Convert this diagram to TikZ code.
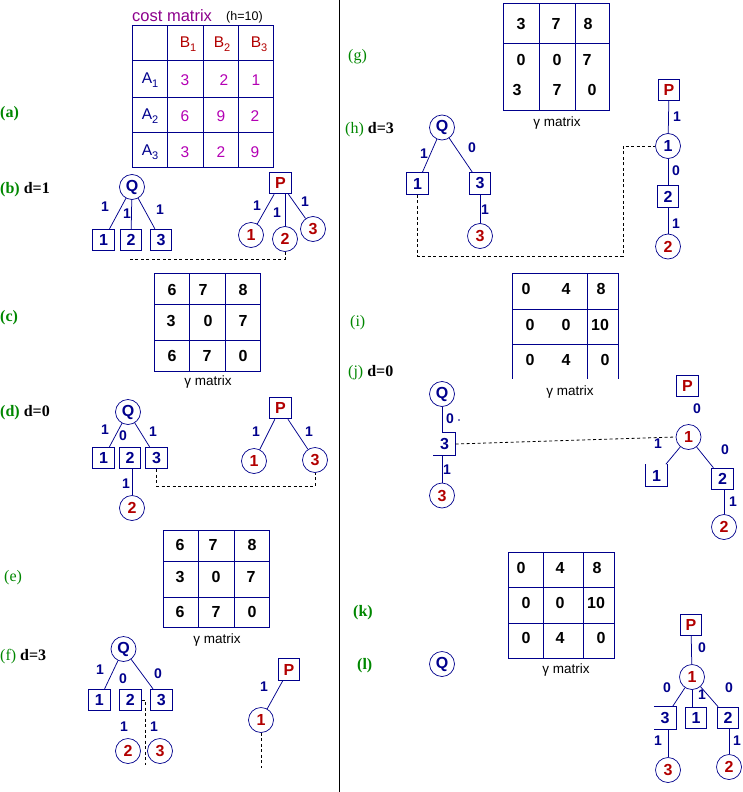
\documentclass[tikz,border=0pt]{standalone}
\usepackage{fontspec}
\setmainfont{Liberation Sans}
\newfontfamily\serf{Liberation Serif}
\usetikzlibrary{calc}
\definecolor{nv}{RGB}{0,0,140}
\definecolor{rd}{RGB}{178,0,0}
\definecolor{gr}{RGB}{0,135,0}
\definecolor{pu}{RGB}{140,0,140}
\definecolor{mg}{RGB}{180,0,180}
\newcommand\fsz[1]{\fontsize{#1}{#1}\selectfont}
\newcommand\sbs[1]{\raisebox{-0.45ex}{\fsz{11}#1}}
\tikzset{
 ln/.style={draw=nv, line width=0.75pt},
 grd/.style={draw=nv, line width=1pt},
 dsh/.style={draw=black, line width=0.8pt, dash pattern=on 3pt off 2.5pt},
 qc/.style={circle, draw=nv, line width=0.7pt, minimum size=25pt, inner sep=0pt, text=nv, font=\fsz{16}\bfseries},
 rc/.style={qc, text=rd},
 bx/.style={rectangle, draw=nv, line width=0.9pt, minimum width=21.5pt, minimum height=21.5pt, inner sep=0pt, text=nv, font=\fsz{16}\bfseries},
 pb/.style={bx, text=rd},
 ob/.style={bx, draw=none},
 el/.style={text=nv, font=\fsz{14}\bfseries, inner sep=0pt},
 tv/.style={text=black, font=\fsz{16}\bfseries, inner sep=0pt},
 cv/.style={text=mg, font=\fsz{15.5}, inner sep=0pt},
 lab/.style={text=gr, font=\serf\fsz{16}\bfseries, anchor=west, inner sep=0pt},
 labr/.style={text=gr, font=\serf\fsz{16}, anchor=west, inner sep=0pt},
 gm/.style={font=\fsz{13.5}, inner sep=0pt},
}
\begin{document}
\begin{tikzpicture}[x=1pt,y=-1pt]
\useasboundingbox (0,0) rectangle (742,792);
% divider
\draw[black, line width=1.2pt] (339.5,0) -- (339.5,792);

% ---------- (a) ----------
\node[lab] (la) at (0,114) {(a)};
\node[anchor=west, inner sep=0pt, text=pu, font=\fsz{16.5}] (ct) at (132,16) {cost matrix};
\node[anchor=west, inner sep=0pt, font=\fsz{12.5}] (ch) at (226,17) {(h=10)};
\draw[grd] (132,26) rectangle (273,167);
\foreach \x in {167,203,238} \draw[grd] (\x,26) -- (\x,167);
\foreach \y in {61,97,132} \draw[grd] (132,\y) -- (273,\y);
\node[cv, text=rd] (ab1) at (188,44) {B\sbs{1}};
\node[cv, text=rd] (ab2) at (222,44) {B\sbs{2}};
\node[cv, text=rd] (ab3) at (259,44) {B\sbs{3}};
\node[cv, text=nv] (aa1) at (150,80) {A\sbs{1}};
\node[cv, text=nv] (aa2) at (150,116) {A\sbs{2}};
\node[cv, text=nv] (aa3) at (150,152) {A\sbs{3}};
\foreach \x/\y/\t [count=\i] in {185/80/3, 224/80/2, 256/80/1, 185/116/6, 221/116/9, 255/116/2, 185/152/3, 221/152/2, 255/152/9}
  \node[cv] (av\i) at (\x,\y) {\t};

% ---------- (b) ----------
\node[lab] (lb) at (0,190) {(b) \textcolor{black}{d=1}};
\node[qc] (bq) at (132,187) {Q};
\node[bx] (bb1) at (103.5,240) {1};
\node[bx] (bb2) at (131,240) {2};
\node[bx] (bb3) at (161,240) {3};
\draw[ln] (bq) -- (bb1);
\draw[ln] (bq) -- (bb2);
\draw[ln] (bq) -- (bb3);
\node[el] (be1) at (105,207) {1};
\node[el] (be2) at (127,214) {1};
\node[el] (be3) at (160,210) {1};
\node[pb] (bp) at (280.5,183) {P};
\node[rc] (bp1) at (251,235) {1};
\node[rc] (bp2) at (285,239) {2};
\node[rc] (bp3) at (313,229) {3};
\draw[ln] (bp) -- (bp1);
\draw[ln] (bp2) -- (bp2 |- bp.south);
\draw[ln] (bp) -- (bp3);
\node[el] (bf1) at (257,206) {1};
\node[el] (bf2) at (277,213) {1};
\node[el] (bf3) at (305,202) {1};
\coordinate (bend) at (128,259);
\draw[dsh] (bp2.south) |- (bend);

% ---------- (c) ----------
\node[lab] (lc) at (0,318) {(c)};
\draw[grd] (154,273) rectangle (260,371);
\foreach \x in {189.7,225.7} \draw[grd] (\x,273) -- (\x,371);
\foreach \y in {304,340} \draw[grd] (154,\y) -- (260,\y);
\foreach \x/\y/\t [count=\i] in {172/290/6, 203/290/7, 243/290/8, 171/321/3, 208/321/0, 243/321/7, 172/356/6, 207/356/7, 243/356/0}
  \node[tv] (cv\i) at (\x,\y) {\t};
\node[gm] (cg) at (208,382) {γ matrix};

% ---------- (d) ----------
\node[lab] (ld) at (0,413) {(d) \textcolor{black}{d=0}};
\node[qc] (dq) at (128,412) {Q};
\node[bx] (db1) at (103.5,458) {1};
\node[bx] (db2) at (130,458) {2};
\node[bx] (db3) at (156.5,458) {3};
\draw[ln] (dq) -- (db1);
\draw[ln] (dq) -- (db3);
\node[el] (de1) at (105,430) {1};
\node[el] (de2) at (123,436) {0};
\node[el] (de3) at (153,432) {1};
\node[rc] (dc2) at (132,508) {2};
\draw[ln] (dc2) -- (dc2 |- db2.south);
\node[el] (de4) at (126,484) {1};
\node[pb] (dp) at (280.5,408) {P};
\node[rc] (dp1) at (254,461) {1};
\node[rc] (dp3) at (315,460) {3};
\draw[ln] (dp) -- (dp1);
\draw[ln] (dp) -- (dp3);
\node[el] (df1) at (256,432) {1};
\node[el] (df2) at (309,432) {1};
\draw[dsh] (db3.south) -- ++(0,17) -| (dp3.south);

% ---------- (e) ----------
\node[labr] (le) at (4,578) {(e)};
\draw[grd] (163,530) rectangle (269,627);
\foreach \x in {198.7,234.7} \draw[grd] (\x,530) -- (\x,627);
\foreach \y in {561,597} \draw[grd] (163,\y) -- (269,\y);
\foreach \x/\y/\t [count=\i] in {180/545/6, 213/545/7, 252/545/8, 180/577/3, 216/577/0, 251/577/7, 180/612/6, 216/612/7, 252/612/0}
  \node[tv] (ev\i) at (\x,\y) {\t};
\node[gm] (eg) at (217,640) {γ matrix};

% ---------- (f) ----------
\node[labr] (lf) at (0,657) {(f) \textcolor{black}{\bfseries d=3}};
\node[qc] (fq) at (123.5,649) {Q};
\node[bx] (fb1) at (99.3,700) {1};
\node[bx] (fb2) at (130.3,700) {2};
\node[bx] (fb3) at (161.3,700) {3};
\draw[ln] (fq) -- (fb1);
\draw[ln] (fq) -- (fb3);
\node[el] (fe1) at (100,670) {1};
\node[el] (fe2) at (123,679) {0};
\node[el] (fe3) at (158,674) {0};
\node[rc] (fc2) at (128,751) {2};
\node[rc] (fc3) at (160,751) {3};
\node[el] (fe4) at (124,727) {1};
\node[el] (fe5) at (154,727) {1};
\coordinate (fend) at (145,765);
\draw[dsh] (fb2.east) -| (fend);
\node[pb] (fp) at (289,669.5) {P};
\node[rc] (fp1) at (261,720) {1};
\draw[ln] (fp) -- (fp1);
\node[el] (ff1) at (264,687) {1};
\coordinate (fpend) at (261,768);
\draw[dsh] (fp1.south) -- (fpend);

% ---------- (g) ----------
\node[labr] (lg) at (348,57) {(g)};
\draw[grd] (503,4) rectangle (609,110);
\foreach \x in {539,575} \draw[grd] (\x,4) -- (\x,110);
\draw[grd] (503,44) -- (609,44);
\foreach \x/\y/\t [count=\i] in {521/24/3, 556/24/7, 588/24/8, 521/60/0, 557/60/0, 587/60/7, 517/90/3, 557/90/7, 592/90/0}
  \node[tv] (gv\i) at (\x,\y) {\t};
\node[gm] (gg) at (557,123) {γ matrix};

% ---------- (h) ----------
\node[labr] (lh) at (345,130) {(h) \textcolor{black}{\bfseries d=3}};
\node[qc] (hq) at (442,127.5) {Q};
\node[bx] (hb1) at (417.5,183.5) {1};
\node[bx] (hb3) at (480,183.5) {3};
\draw[ln] (hq) -- (hb1);
\draw[ln] (hq) -- (hb3);
\node[el] (he1) at (424,154) {1};
\node[el] (he2) at (472,148) {0};
\node[rc] (hc3) at (480,236) {3};
\draw[ln] (hb3) -- (hc3);
\node[el] (he3) at (485,210) {1};
\node[pb] (hp) at (669,90) {P};
\node[qc] (hp1) at (668,146) {1};
\node[bx] (hb2) at (668,196.5) {2};
\node[rc] (hc2) at (668,246.5) {2};
\draw[ln] (hp) -- (hp1);
\draw[ln] (hp1) -- (hb2);
\draw[ln] (hb2) -- (hc2);
\node[el] (hf1) at (677,117) {1};
\node[el] (hf2) at (676,171) {0};
\node[el] (hf3) at (676,224) {1};
\coordinate (hk) at (623,256);
\draw[dsh] (hb1.south) |- (hk) |- (hp1.west);

% ---------- (i) ----------
\node[labr] (li) at (350,323) {(i)};
\foreach \x in {512,587,618} \draw[grd] (\x,273) -- (\x,379);
\foreach \y in {273,309,344} \draw[grd] (512,\y) -- (618,\y);
\foreach \x/\y/\t [count=\i] in {526/289/0, 566/289/4, 601/289/8, 530/325/0, 566/325/0, 600/325/10, 530/360/0, 566/360/4, 605/360/0}
  \node[tv] (iv\i) at (\x,\y) {\t};
\node[gm] (ig) at (570,392) {γ matrix};

% ---------- (j) ----------
\node[labr] (lj) at (348,373) {(j) \textcolor{black}{\bfseries d=0}};
\node[qc] (jq) at (442,394) {Q};
\node[ob] (jb3) at (444.5,444) {3};
\draw[ln] (jq) -- (jq |- jb3.north);
\draw[grd] (jq |- jb3.north) -- (jb3.north east) -- (jb3.south east) -- (jb3.south west);
\node[el] (je1) at (450,419) {0};
\fill[nv] (459,420) circle (0.8);
\node[rc] (jc3) at (442,495.5) {3};
\draw[ln] (jc3) -- (jc3 |- jb3.south);
\node[el] (je2) at (447,470) {1};
\node[pb] (jp) at (687.5,386) {P};
\node[el] (jf0) at (697,409) {0};
\node[rc] (jp1) at (688.5,437) {1};
\node[ob] (jb1) at (656.5,475.5) {1};
\draw[grd] (jb1.north west) -- (jb1.south west) -- (jb1.south east) -- (jb1.north east);
\node[bx] (jb2) at (722.5,479) {2};
\node[rc] (jc2) at (724,527) {2};
\draw[ln] (jp1) -- (jb1);
\draw[ln] (jp1) -- (jb2);
\draw[ln] (jc2) -- (jc2 |- jb2.south);
\node[el] (jf1) at (658,444) {1};
\node[el] (jf2) at (725,450) {0};
\node[el] (jf3) at (733,502) {1};
\draw[dsh] (jb3.east) -- (jp1.west);

% ---------- (k) ----------
\node[lab] (lk) at (353,613) {(k)};
\draw[grd] (508,552) rectangle (614,658);
\foreach \x in {543.7,583.7} \draw[grd] (\x,552) -- (\x,658);
\foreach \y in {587.7,623} \draw[grd] (508,\y) -- (614,\y);
\foreach \x/\y/\t [count=\i] in {521/568/0, 560/568/4, 597/568/8, 526/603/0, 560/603/0, 596/603/10, 526/638/0, 560/638/4, 601/638/0}
  \node[tv] (kv\i) at (\x,\y) {\t};
\node[gm] (kg) at (566,670) {γ matrix};

% ---------- (l) ----------
\node[lab] (ll) at (357,666) {(l)};
\node[qc] (lq) at (442,664) {Q};
\node[pb] (lp) at (691,625) {P};
\node[rc] (lp1) at (692,677) {1};
\draw[ln] (lp) -- (lp1);
\node[el] (lf0) at (702,648) {0};
\node[ob] (lb3) at (665,718) {3};
\draw[grd] (lb3.north west) -- (lb3.north east) -- (lb3.south east) -- (lb3.south west);
\node[bx] (lb1) at (696,718) {1};
\node[bx] (lb2) at (728,718) {2};
\draw[ln] (lp1) -- (lb3);
\draw[ln] (lp1) -- (lp1 |- lb1.north);
\draw[ln] (lp1) -- (lb2);
\node[el] (lf1) at (667,688) {0};
\node[el] (lf2) at (702,695) {1};
\node[el] (lf3) at (729,688) {0};
\node[rc] (lc3) at (668,770) {3};
\node[rc] (lc2) at (729,767) {2};
\draw[ln] (lc3) -- (lc3 |- lb3.south);
\draw[ln] (lc2) -- (lc2 |- lb2.south);
\node[el] (lf4) at (658,741) {1};
\node[el] (lf5) at (737,741) {1};
\end{tikzpicture}
\end{document}
